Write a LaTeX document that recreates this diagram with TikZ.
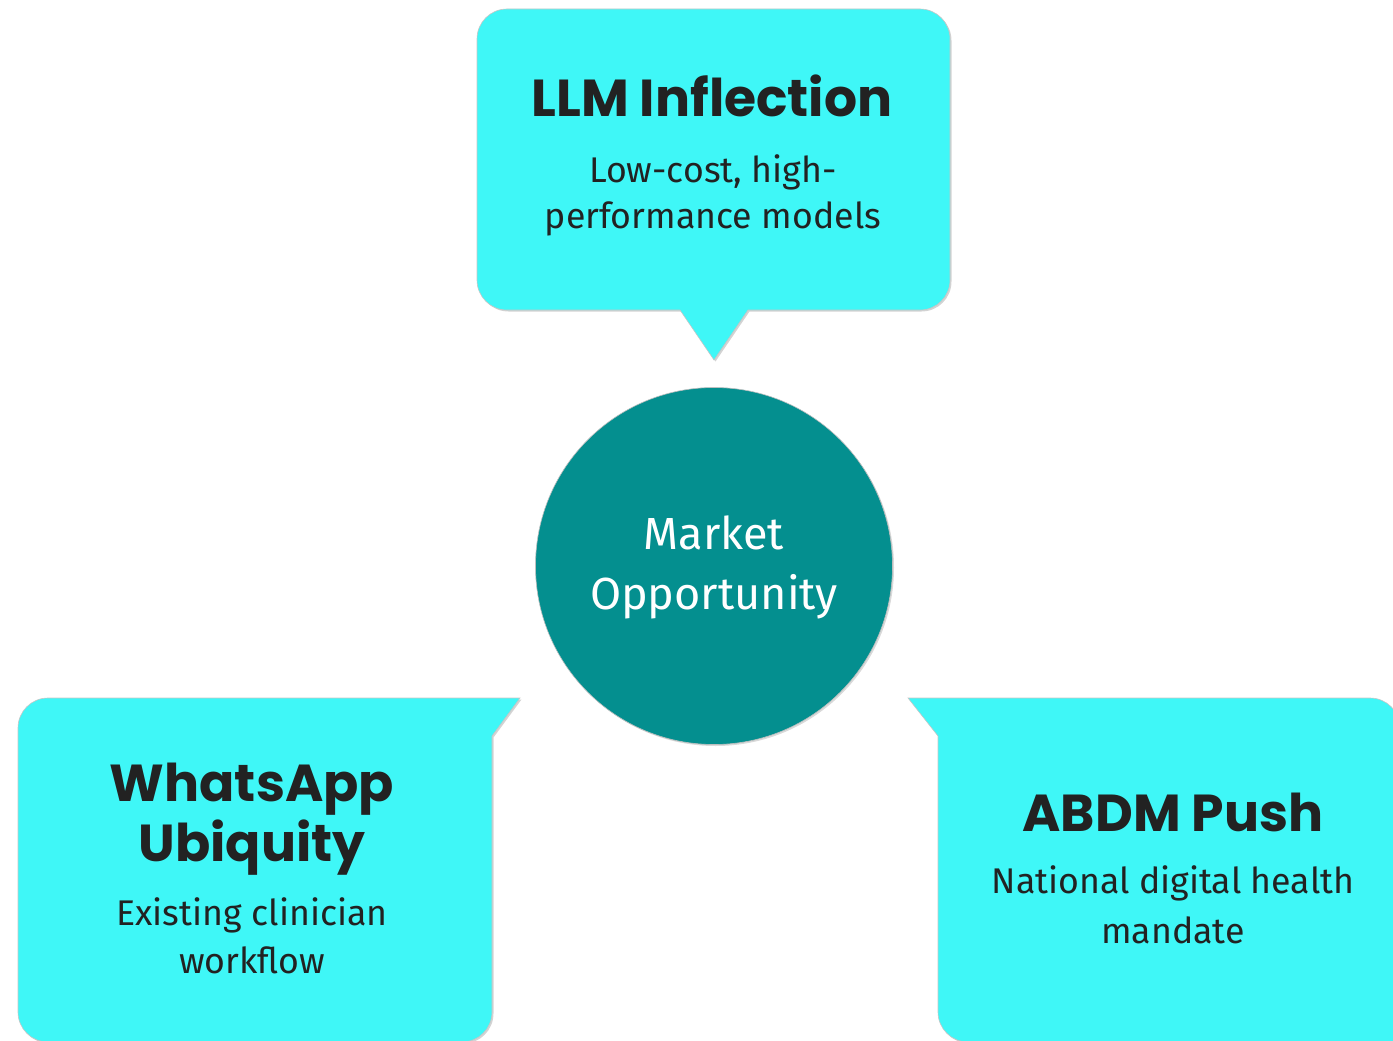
\documentclass[tikz,border=0pt]{standalone}
\usepackage{fontspec}
\setmainfont{Fira Sans}
\newfontfamily\titlefont{Poppins}
\usetikzlibrary{shadows}
\definecolor{callfill}{HTML}{3FF7F7}
\definecolor{hubfill}{HTML}{048F8F}
\definecolor{ink}{HTML}{222222}
\tikzset{
  callbox/.style={fill=callfill, draw=gray!45, line width=0.6pt,
    drop shadow={shadow xshift=1.5pt, shadow yshift=-1.5pt, opacity=0.35, fill=gray}},
  titletext/.style={anchor=base, text=ink, font=\titlefont\bfseries\fontsize{52}{60}\selectfont, inner sep=0pt},
  subtext/.style={anchor=base, text=ink, font=\fontsize{35.7}{42}\selectfont, inner sep=0pt},
  hubtext/.style={anchor=base, text=white, font=\fontsize{45}{50}\selectfont, inner sep=0pt}
}
\begin{document}
\begin{tikzpicture}[x=1pt,y=-1pt]
\useasboundingbox (0,0) rectangle (1393,1041);
\clip (0,0) rectangle (1393,1041);
% top callout
\path[callbox] (507,9) -- (920,9) .. controls (936.6,9) and (950,22.4) .. (950,39)
  -- (950,280) .. controls (950,296.6) and (936.6,310) .. (920,310)
  -- (748,310) -- (714,360) -- (680,310) -- (507,310)
  .. controls (490.4,310) and (477,296.6) .. (477,280) -- (477,39)
  .. controls (477,22.4) and (490.4,9) .. (507,9) -- cycle;
% bottom-left callout
\path[callbox] (48,698) -- (520,698) -- (492,736) -- (492,1012)
  .. controls (492,1028.6) and (478.6,1042) .. (462,1042) -- (48,1042)
  .. controls (31.4,1042) and (18,1028.6) .. (18,1012) -- (18,728)
  .. controls (18,711.4) and (31.4,698) .. (48,698) -- cycle;
% bottom-right callout
\path[callbox] (908,698) -- (1370,698) .. controls (1386.6,698) and (1400,711.4) .. (1400,728)
  -- (1400,1042) -- (968,1042) .. controls (951.4,1042) and (938,1028.6) .. (938,1012)
  -- (938,736) -- cycle;
% hub
\node[circle, minimum size=357pt, inner sep=0pt, fill=hubfill, draw=gray!50, line width=0.6pt,
  drop shadow={shadow xshift=1.5pt, shadow yshift=-1.5pt, opacity=0.3, fill=gray}] (hub) at (714,566) {};
\node[hubtext] (hub1) at (714,549) {Market};
\node[hubtext] (hub2) at (714,609) {Opportunity};
% top texts
\node[titletext] (llmT) at (712,116) {LLM Inflection};
\node[subtext] (llm1) at (713,182) {Low-cost, high-};
\node[subtext] (llm2) at (713,228) {performance models};
% left texts
\node[titletext] (waT1) at (252,801) {WhatsApp};
\node[titletext] (waT2) at (252,861) {Ubiquity};
\node[subtext] (wa1) at (252,925) {Existing clinician};
\node[subtext] (wa2) at (252,973) {workflow};
% right texts
\node[titletext] (abT) at (1173,831) {ABDM Push};
\node[subtext] (ab1) at (1173,893) {National digital health};
\node[subtext] (ab2) at (1173,943) {mandate};
\end{tikzpicture}
\end{document}
